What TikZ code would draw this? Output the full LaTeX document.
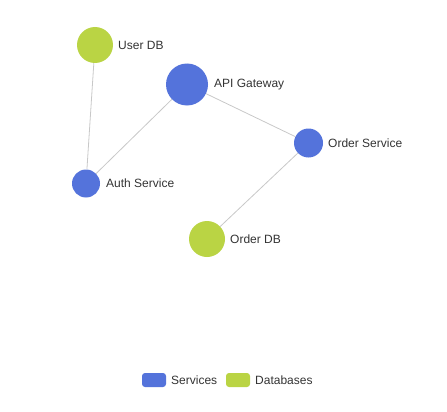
\documentclass[tikz,border=0pt]{standalone}
\usepackage{fontspec}
\setmainfont{Liberation Sans}
\definecolor{svc}{HTML}{5473DB}
\definecolor{dbc}{HTML}{BAD444}
\definecolor{edgec}{HTML}{C8C8C8}
\definecolor{txt}{HTML}{333333}
\begin{document}
\begin{tikzpicture}[x=1pt,y=-1pt,
  svcnode/.style={circle,fill=svc,inner sep=0pt},
  dbnode/.style={circle,fill=dbc,inner sep=0pt},
  lbl/.style={anchor=west,text=txt,font=\fontsize{12}{14}\selectfont,inner sep=0pt},
  link/.style={draw=edgec,line width=0.8pt},
  legkey/.style={rounded corners=3pt,minimum width=24pt,minimum height=14pt,inner sep=0pt}]
\useasboundingbox (0,0) rectangle (447,412);
\node[dbnode,minimum size=36pt] (userdb) at (95,45) {};
\node[svcnode,minimum size=42pt] (api) at (187,84.5) {};
\node[svcnode,minimum size=29pt] (order) at (308.5,143) {};
\node[svcnode,minimum size=28pt] (auth) at (86,183.5) {};
\node[dbnode,minimum size=36pt] (orderdb) at (207,239) {};
\draw[link] (userdb) -- (auth);
\draw[link] (api) -- (auth);
\draw[link] (api) -- (order);
\draw[link] (order) -- (orderdb);
\node[lbl] (luserdb) at (118,45) {User DB};
\node[lbl] (lapi) at (214,84.5) {API Gateway};
\node[lbl] (lorder) at (328,143) {Order Service};
\node[lbl] (lauth) at (106,183.5) {Auth Service};
\node[lbl] (lorderdb) at (230,239) {Order DB};
\node[legkey,fill=svc] (k1) at (154,380) {};
\node[lbl] (t1) at (171,380) {Services};
\node[legkey,fill=dbc] (k2) at (238,380) {};
\node[lbl] (t2) at (255,380) {Databases};
\end{tikzpicture}
\end{document}
